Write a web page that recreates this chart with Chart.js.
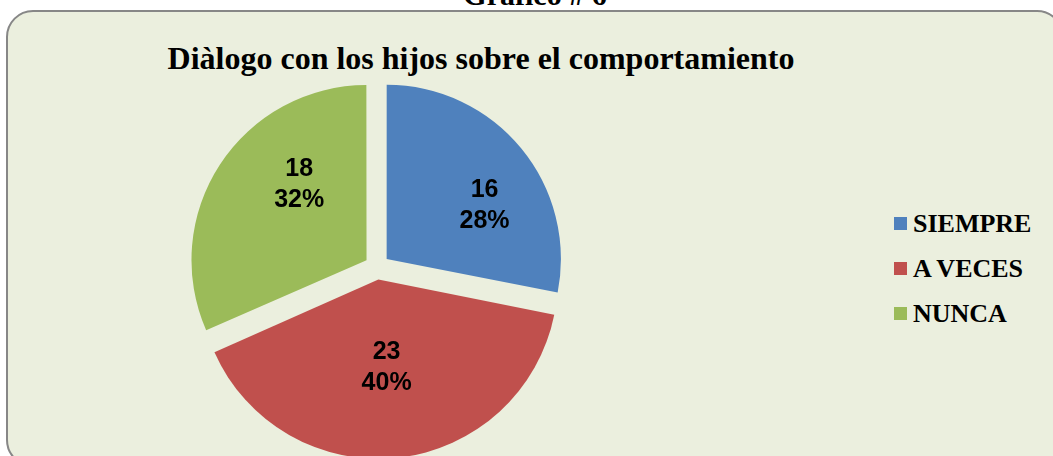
<!DOCTYPE html>
<html>
<head>
<meta charset="utf-8">
<script src="https://cdn.jsdelivr.net/npm/chart.js@4.4.0/dist/chart.umd.min.js"></script>
<style>
  html, body { margin: 0; padding: 0; background: #fff; overflow: hidden; }
  body { width: 1053px; height: 456px; position: relative; }
  #caption {
    position: absolute; left: 0; width: 1070px; top: -20px;
    text-align: center; font: bold 30px "Liberation Serif", "Times New Roman", serif; color: #000;
    line-height: 30px;
  }
  #panel {
    position: absolute; left: 6px; top: 10px; width: 1054px; height: 453px;
    border: 2px solid #878787; border-radius: 27px; background: #EBEFDE;
  }
  #title {
    position: absolute; left: 0; width: 962px; top: 40px; text-align: center;
    font: bold 32px "Liberation Serif", "Times New Roman", serif; color: #000;
  }
  #pieBox { position: absolute; left: 187px; top: 77px; width: 380px; height: 380px; }
  #legend { position: absolute; left: 894px; top: 201px; }
  .item { height: 45px; display: flex; align-items: center;
    font: bold 26px "Liberation Serif", "Times New Roman", serif; color: #000; }
  .sw { width: 13px; height: 13px; margin-right: 6px; }
</style>
</head>
<body>
<div id="caption">Gráfico # 6</div>
<div id="panel"></div>
<div id="title">Diàlogo con los hijos sobre el comportamiento</div>
<div id="pieBox"><canvas id="pie"></canvas></div>
<div id="legend"></div>
<script>
var categorias = ['SIEMPRE', 'A VECES', 'NUNCA'];
var valores = [16, 23, 18];
var porcentajes = ['28%', '40%', '32%'];
var colores = ['#4F81BD', '#C0504D', '#9BBB59'];

// ajuste fino de la posicion de las etiquetas (grados, fraccion del radio)
var giroEtiqueta = [11, 1, 15];
var radioEtiqueta = [0.64, 0.51, 0.58];

var etiquetas = {
  id: 'etiquetas',
  afterDatasetsDraw: function(chart) {
    var ctx = chart.ctx;
    var meta = chart.getDatasetMeta(0);
    ctx.save();
    ctx.font = 'bold 25px "Liberation Sans", Arial, sans-serif';
    ctx.fillStyle = '#000';
    ctx.textAlign = 'center';
    ctx.textBaseline = 'middle';
    meta.data.forEach(function(arc, i) {
      var p = arc.getProps(['x', 'y', 'startAngle', 'endAngle', 'outerRadius'], true);
      // chart.js desplaza el arco offset/4 al dibujarlo
      var off = (arc.options.offset || 0) / 4;
      var mid = (p.startAngle + p.endAngle) / 2;
      var cx = p.x + Math.cos(mid) * off;
      var cy = p.y + Math.sin(mid) * off;
      var a = mid + giroEtiqueta[i] * Math.PI / 180;
      var r = p.outerRadius * radioEtiqueta[i];
      var x = cx + Math.cos(a) * r;
      var y = cy + Math.sin(a) * r;
      ctx.fillText(String(valores[i]), x, y - 15.5);
      ctx.fillText(porcentajes[i], x, y + 15.5);
    });
    ctx.restore();
  }
};

var grafico = new Chart(document.getElementById('pie').getContext('2d'), {
  type: 'pie',
  data: {
    labels: categorias,
    datasets: [{
      data: valores,
      backgroundColor: colores,
      borderWidth: 0,
      offset: 50
    }]
  },
  options: {
    responsive: true,
    maintainAspectRatio: false,
    animation: false,
    radius: 174,
    layout: { padding: 0 },
    plugins: {
      legend: { display: false },
      tooltip: { enabled: false }
    }
  },
  plugins: [etiquetas]
});

var leyenda = document.getElementById('legend');
categorias.forEach(function(c, i) {
  var fila = document.createElement('div');
  fila.className = 'item';
  var sw = document.createElement('span');
  sw.className = 'sw';
  sw.style.background = colores[i];
  fila.appendChild(sw);
  fila.appendChild(document.createTextNode(c));
  leyenda.appendChild(fila);
});
</script>
</body>
</html>
